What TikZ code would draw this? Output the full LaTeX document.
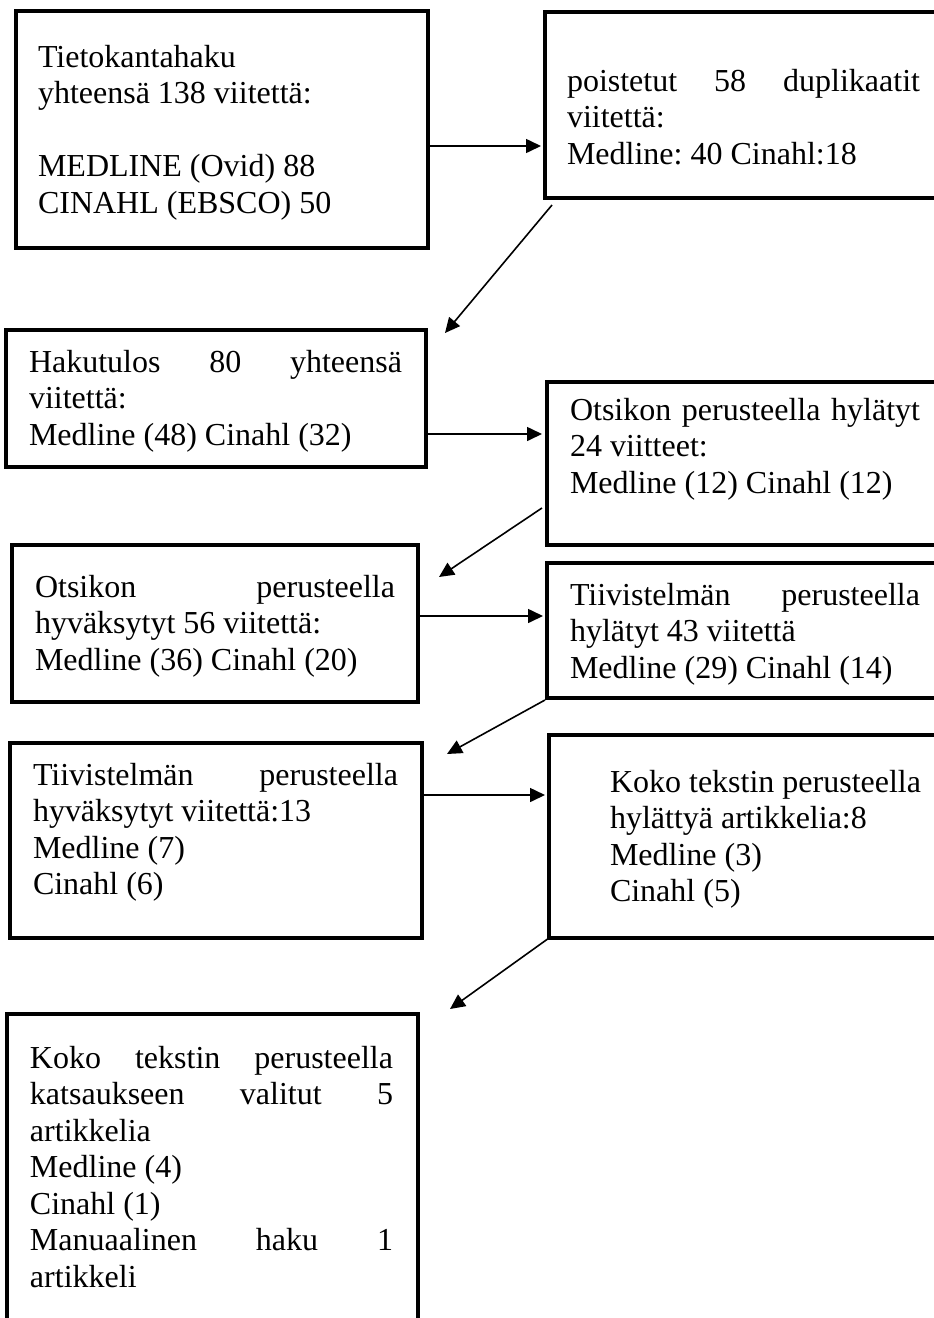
\documentclass[tikz,border=0pt]{standalone}
\usepackage{fontspec}
\setmainfont{Liberation Serif}
\usetikzlibrary{arrows.meta}
\frenchspacing
\begin{document}
\begin{tikzpicture}[x=1pt,y=-1pt,
  box/.style={draw, line width=4pt, anchor=north west, inner sep=0pt, outer sep=0pt},
  txt/.style={anchor=base west, inner sep=0pt, outer sep=0pt, align=flush left,
    font=\fontsize{32}{36.5}\selectfont},
  arr/.style={line width=1.6pt, -{Triangle[length=15pt,width=14pt]}}]
\useasboundingbox (0,0) rectangle (934,1318);
\clip (0,0) rectangle (934,1318);
% boxes
\node[box, minimum width=412pt, minimum height=237pt] (b1) at (16,11) {};
\node[box, minimum width=420pt, minimum height=186pt] (b2) at (545,12) {};
\node[box, minimum width=420pt, minimum height=137pt] (b3) at (6,330) {};
\node[box, minimum width=420pt, minimum height=163pt] (b4) at (547,382) {};
\node[box, minimum width=406pt, minimum height=157pt] (b5) at (12,545) {};
\node[box, minimum width=420pt, minimum height=135pt] (b6) at (547,563) {};
\node[box, minimum width=412pt, minimum height=195pt] (b7) at (10,743) {};
\node[box, minimum width=420pt, minimum height=203pt] (b8) at (549,735) {};
\node[box, minimum width=411pt, minimum height=340pt] (b9) at (7,1014) {};
% texts
\node[txt, text width=380pt] (t1) at (38,67) {Tietokantahaku\\ yhteensä 138 viitettä:\\[36.5pt] MEDLINE (Ovid) 88\\ CINAHL (EBSCO) 50};
\node[txt, text width=353pt] (t2) at (567,91) {poistetut\hfill 58\hfill duplikaatit\\ viitettä:\\ Medline: 40 Cinahl:18};
\node[txt, text width=373pt] (t3) at (29,372) {Hakutulos\hfill 80\hfill yhteensä\\ viitettä:\\ Medline (48) Cinahl (32)};
\node[txt, text width=350pt] (t4) at (570,420) {Otsikon\hfill perusteella\hfill hylätyt\\ 24 viitteet:\\ Medline (12) Cinahl (12)};
\node[txt, text width=360pt] (t5) at (35,597) {Otsikon\hfill perusteella\\ hyväksytyt 56 viitettä:\\ Medline (36) Cinahl (20)};
\node[txt, text width=350pt] (t6) at (570,605) {Tiivistelmän\hfill perusteella\\ hylätyt 43 viitettä\\ Medline (29) Cinahl (14)};
\node[txt, text width=365pt] (t7) at (33,785) {Tiivistelmän\hfill perusteella\\ hyväksytyt viitettä:13\\ Medline (7)\\ Cinahl (6)};
\node[txt, text width=320pt] (t8) at (610,792) {Koko tekstin perusteella\\ hylättyä artikkelia:8\\ Medline (3)\\ Cinahl (5)};
\node[txt, text width=363pt] (t9) at (30,1068) {Koko\hfill tekstin\hfill perusteella\\ katsaukseen\hfill valitut\hfill 5\\ artikkelia\\ Medline (4)\\ Cinahl (1)\\ Manuaalinen\hfill haku\hfill 1\\ artikkeli};
% arrow free ends
\coordinate (e2) at (445,333);
\coordinate (e4) at (439,577);
\coordinate (e6) at (447,754);
\coordinate (e8) at (450,1009);
% connectors
\draw[arr] (b1.east |- 0,146) -- ([xshift=-4pt]b2.west |- 0,146);
\draw[arr] ([shift={(7,7)}]b2.south west) -- (e2);
\draw[arr] (b3.east |- 0,434) -- ([xshift=-5pt]b4.west |- 0,434);
\draw[arr] ([shift={(-5,-37)}]b4.south west) -- (e4);
\draw[arr] (b5.east |- 0,616) -- ([xshift=-4pt]b6.west |- 0,616);
\draw[arr] ([shift={(-2,2)}]b6.south west) -- (e6);
\draw[arr] (b7.east |- 0,795) -- ([xshift=-4pt]b8.west |- 0,795);
\draw[arr] (b8.south west) -- (e8);
\end{tikzpicture}
\end{document}
